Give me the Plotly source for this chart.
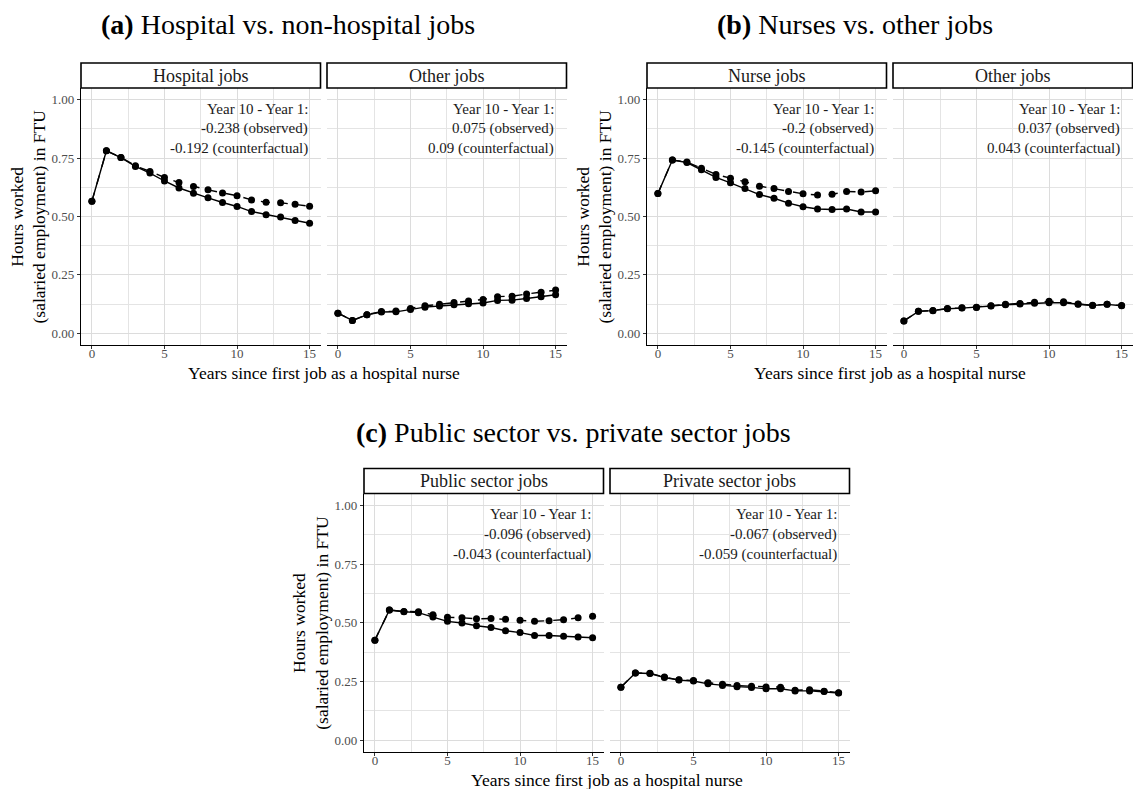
import plotly.graph_objects as go

# ---- data ---------------------------------------------------------------
years = list(range(16))

hospital_obs = [0.565, 0.781, 0.752, 0.714, 0.686, 0.652, 0.622, 0.600, 0.580, 0.560, 0.543, 0.521, 0.508, 0.498, 0.483, 0.471]
hospital_cf = [0.565, 0.781, 0.753, 0.717, 0.693, 0.667, 0.645, 0.628, 0.614, 0.601, 0.589, 0.571, 0.561, 0.559, 0.552, 0.544]
nonhosp_obs = [0.086, 0.055, 0.079, 0.091, 0.092, 0.102, 0.112, 0.117, 0.122, 0.127, 0.130, 0.141, 0.142, 0.149, 0.157, 0.165]
nonhosp_cf = [0.086, 0.055, 0.080, 0.093, 0.095, 0.106, 0.118, 0.124, 0.132, 0.138, 0.145, 0.157, 0.159, 0.168, 0.176, 0.185]

nurse_obs = [0.598, 0.742, 0.731, 0.700, 0.667, 0.644, 0.620, 0.594, 0.578, 0.557, 0.542, 0.532, 0.530, 0.532, 0.519, 0.519]
nurse_cf = [0.598, 0.742, 0.733, 0.706, 0.680, 0.664, 0.649, 0.630, 0.620, 0.607, 0.597, 0.592, 0.595, 0.607, 0.605, 0.610]
nonnurse_obs = [0.053, 0.094, 0.097, 0.105, 0.108, 0.111, 0.117, 0.122, 0.126, 0.129, 0.131, 0.131, 0.124, 0.119, 0.124, 0.118]
nonnurse_cf = [0.053, 0.094, 0.098, 0.106, 0.109, 0.112, 0.118, 0.124, 0.128, 0.133, 0.137, 0.135, 0.125, 0.120, 0.124, 0.119]

public_obs = [0.426, 0.554, 0.547, 0.543, 0.524, 0.506, 0.499, 0.487, 0.480, 0.466, 0.458, 0.446, 0.446, 0.443, 0.439, 0.436]
public_cf = [0.426, 0.554, 0.548, 0.547, 0.534, 0.523, 0.521, 0.517, 0.518, 0.515, 0.511, 0.506, 0.509, 0.513, 0.521, 0.528]
private_obs = [0.226, 0.286, 0.284, 0.267, 0.256, 0.252, 0.240, 0.233, 0.228, 0.225, 0.219, 0.219, 0.210, 0.210, 0.207, 0.201]
private_cf = [0.226, 0.286, 0.285, 0.269, 0.257, 0.254, 0.245, 0.238, 0.233, 0.230, 0.227, 0.226, 0.213, 0.215, 0.209, 0.202]

panel_titles = ["<b>(a)</b> Hospital vs. non-hospital jobs",
                "<b>(b)</b> Nurses vs. other jobs",
                "<b>(c)</b> Public sector vs. private sector jobs"]
strip_labels = [["Hospital jobs", "Other jobs"],
                ["Nurse jobs", "Other jobs"],
                ["Public sector jobs", "Private sector jobs"]]
series = [[(hospital_obs, hospital_cf), (nonhosp_obs, nonhosp_cf)],
          [(nurse_obs, nurse_cf), (nonnurse_obs, nonnurse_cf)],
          [(public_obs, public_cf), (private_obs, private_cf)]]
y_ticks = [0, 0.25, 0.5, 0.75, 1.0]
y_ticklabels = ["0.00", "0.25", "0.50", "0.75", "1.00"]
x_ticks = [0, 5, 10, 15]
x_title = "Years since first job as a hospital nurse"
y_title = "Hours worked<br>(salaried employment) in FTU"

# ---- layout geometry (pixels) -------------------------------------------
W, H = 1133, 789
FONT = "Liberation Serif"
# left edge of first facet, top and bottom of the plotting area, title centre
panels = [
    dict(left=81, top=88, bottom=345, title_x=288, title_y=24),
    dict(left=647, top=88, bottom=345, title_x=855, title_y=24),
    dict(left=364, top=493.5, bottom=752, title_x=573, title_y=433),
]
FACET_W = 239.5
GAP = 6.5
STRIP_H = 25


def px(x):
    return x / W


def py(y):
    return 1 - y / H


fig = go.Figure()
annotations = []
shapes = []
axis_n = 0

for p_i, pan in enumerate(panels):
    for f_i in range(2):
        axis_n += 1
        sfx = "" if axis_n == 1 else str(axis_n)
        x0 = pan["left"] + f_i * (FACET_W + GAP)
        x1 = x0 + FACET_W
        obs, cf = series[p_i][f_i]

        for vals, dash in ((cf, "dash"), (obs, "solid")):
            fig.add_trace(go.Scatter(
                x=years, y=vals, mode="lines+markers",
                line=dict(color="black", width=1.4, dash=dash),
                marker=dict(color="black", size=7),
                xaxis="x" + sfx, yaxis="y" + sfx, showlegend=False,
                hoverinfo="skip"))

        fig.layout["xaxis" + sfx] = dict(
            domain=[px(x0), px(x1)], anchor="y" + sfx,
            range=[-0.75, 15.75], tickvals=x_ticks, ticks="outside",
            ticklen=3, tickcolor="#333333", tickwidth=1,
            ticklabelstandoff=-7,
            tickfont=dict(family=FONT, size=13, color="#4D4D4D"),
            showline=True, linecolor="black", linewidth=1.2,
            showgrid=True, gridcolor="#DCDCDC", gridwidth=1.1,
            minor=dict(tickvals=[2.5, 7.5, 12.5], showgrid=True,
                       gridcolor="#E4E4E4", gridwidth=0.7, ticks=""),
            zeroline=False, fixedrange=True)
        fig.layout["yaxis" + sfx] = dict(
            domain=[py(pan["bottom"]), py(pan["top"])], anchor="x" + sfx,
            range=[-0.05, 1.05], tickvals=y_ticks,
            ticktext=y_ticklabels if f_i == 0 else None,
            showticklabels=(f_i == 0),
            ticks="outside" if f_i == 0 else "",
            ticklen=3, tickcolor="#333333", tickwidth=1,
            tickfont=dict(family=FONT, size=13, color="#4D4D4D"),
            showline=(f_i == 0), linecolor="black", linewidth=1.2,
            showgrid=True, gridcolor="#DCDCDC", gridwidth=1.1,
            minor=dict(tickvals=[0.125, 0.375, 0.625, 0.875], showgrid=True,
                       gridcolor="#E4E4E4", gridwidth=0.7, ticks=""),
            zeroline=False, fixedrange=True)

        # facet strip
        shapes.append(dict(type="rect", xref="paper", yref="paper",
                           x0=px(x0), x1=px(x1),
                           y0=py(pan["top"]), y1=py(pan["top"] - STRIP_H),
                           line=dict(color="black", width=1.6),
                           fillcolor="white", layer="above"))
        annotations.append(dict(xref="paper", yref="paper",
                                x=px((x0 + x1) / 2), y=py(pan["top"] - STRIP_H / 2),
                                text=strip_labels[p_i][f_i], showarrow=False,
                                font=dict(family=FONT, size=18, color="#1A1A1A"),
                                xanchor="center", yanchor="middle"))

        # change between year 1 and year 10
        d_obs = round(obs[10] - obs[1], 3)
        d_cf = round(cf[10] - cf[1], 3)
        lines = ["Year 10 - Year 1:",
                 f"{d_obs:g} (observed)",
                 f"{d_cf:g} (counterfactual)"]
        for l_i, txt in enumerate(lines):
            annotations.append(dict(xref="x" + sfx, yref="y" + sfx,
                                    x=15, y=0.962 - 0.0855 * l_i, text=txt,
                                    showarrow=False, xanchor="right",
                                    yanchor="middle",
                                    font=dict(family=FONT, size=15, color="#1A1A1A")))

    plot_l = pan["left"]
    plot_r = pan["left"] + 2 * FACET_W + GAP
    # panel title
    annotations.append(dict(xref="paper", yref="paper",
                            x=px(pan["title_x"]), y=py(pan["title_y"]),
                            text=panel_titles[p_i], showarrow=False,
                            xanchor="center", yanchor="middle",
                            font=dict(family=FONT, size=28, color="black")))
    # x axis title
    annotations.append(dict(xref="paper", yref="paper",
                            x=px((plot_l + plot_r) / 2), y=py(pan["bottom"] + 28),
                            text=x_title, showarrow=False,
                            xanchor="center", yanchor="middle",
                            font=dict(family=FONT, size=17.5, color="black")))
    # y axis title
    annotations.append(dict(xref="paper", yref="paper",
                            x=px(plot_l - 53), y=py((pan["top"] + pan["bottom"]) / 2),
                            text=y_title, showarrow=False, textangle=-90,
                            xanchor="center", yanchor="middle",
                            font=dict(family=FONT, size=17.5, color="black")))

fig.update_layout(
    width=W, height=H, margin=dict(l=0, r=0, t=0, b=0),
    paper_bgcolor="white", plot_bgcolor="white",
    annotations=annotations, shapes=shapes, showlegend=False,
)

fig.write_html("out.html", config={"displayModeBar": False})
